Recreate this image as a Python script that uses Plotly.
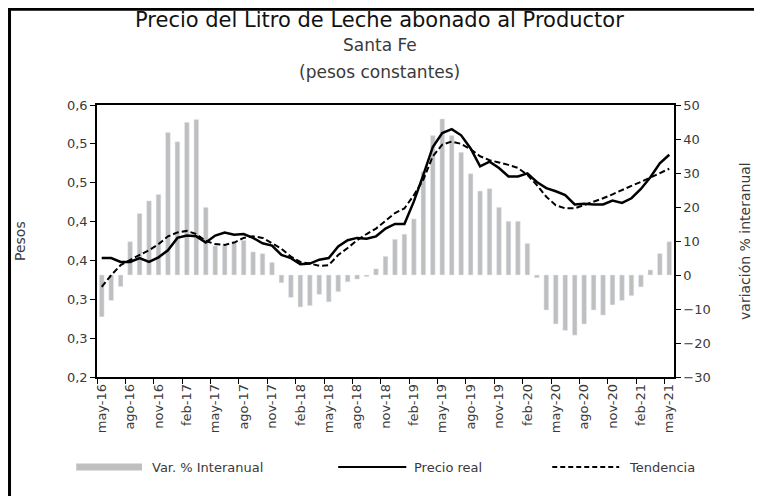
import plotly.graph_objects as go

# meses may-16 .. may-21
meses_abr = ['ene', 'feb', 'mar', 'abr', 'may', 'jun', 'jul', 'ago', 'sep', 'oct', 'nov', 'dic']
meses = []
for anio in range(16, 22):
    for m in meses_abr:
        meses.append(f"{m}-{anio}")
meses = meses[meses.index('may-16'):meses.index('may-21') + 1]

var_interanual = [-12.3, -7.5, -3.4, 9.8, 18.1, 21.8, 23.7, 41.9, 39.2, 44.9,
                  45.7, 19.9, 8.6, 8.6, 9.8, 10.2, 6.8, 6.3, 3.7, -2.3,
                  -6.6, -9.4, -9.0, -5.7, -7.9, -4.9, -2.0, -1.2, -0.5, 1.8,
                  5.5, 10.5, 12.0, 16.5, 30.4, 41.0, 45.9, 41.0, 36.1, 29.8,
                  24.7, 25.4, 19.9, 15.8, 15.8, 9.3, -0.8, -10.3, -14.4, -16.3,
                  -17.7, -14.4, -10.3, -11.8, -8.8, -7.5, -6.1, -3.5, 1.5, 6.3,
                  9.8]

precio_real = [0.353, 0.353, 0.348, 0.348, 0.353, 0.348, 0.354, 0.363, 0.379, 0.382,
               0.381, 0.373, 0.382, 0.386, 0.383, 0.384, 0.379, 0.372, 0.369, 0.357,
               0.353, 0.345, 0.346, 0.351, 0.353, 0.368, 0.376, 0.379, 0.378, 0.381,
               0.391, 0.397, 0.397, 0.426, 0.460, 0.496, 0.514, 0.519, 0.511, 0.494,
               0.471, 0.477, 0.469, 0.458, 0.458, 0.462, 0.451, 0.443, 0.439, 0.434,
               0.422, 0.423, 0.422, 0.422, 0.427, 0.424, 0.430, 0.442, 0.457, 0.475,
               0.486]

tendencia = [0.316, 0.331, 0.344, 0.351, 0.357, 0.363, 0.371, 0.381, 0.386, 0.388,
             0.384, 0.375, 0.371, 0.370, 0.373, 0.379, 0.381, 0.379, 0.372, 0.365,
             0.355, 0.348, 0.346, 0.343, 0.344, 0.357, 0.366, 0.376, 0.384, 0.391,
             0.401, 0.411, 0.417, 0.434, 0.454, 0.484, 0.499, 0.503, 0.500, 0.493,
             0.484, 0.479, 0.476, 0.473, 0.469, 0.460, 0.447, 0.432, 0.421, 0.417,
             0.417, 0.421, 0.426, 0.430, 0.435, 0.441, 0.446, 0.451, 0.457, 0.462,
             0.468]

pesos_ticks = [0.2, 0.25, 0.3, 0.35, 0.4, 0.45, 0.5, 0.55]
pesos_labels = ['0,2', '0,3', '0,3', '0,4', '0,4', '0,5', '0,5', '0,6']

FUENTE = 'DejaVu Sans'
GRIS = '#bfbfbf'
TEXTO = '#3a3a3a'

fig = go.Figure()

# barras en el eje primario (derecha) para que las lineas queden encima
fig.add_trace(go.Bar(x=meses, y=var_interanual, name='Var. % Interanual',
                     marker_color=GRIS, yaxis='y'))
fig.add_trace(go.Scatter(x=meses, y=precio_real, name='Precio real', mode='lines',
                         line=dict(color='black', width=2.5), yaxis='y2'))
fig.add_trace(go.Scatter(x=meses, y=tendencia, name='Tendencia', mode='lines',
                         line=dict(color='black', width=2, dash='6px,3px'), yaxis='y2'))

# la pagina deja 8px de margen en el body: se compensa en los margenes
fig.update_layout(
    width=762, height=496,
    margin=dict(l=89, r=96, t=97, b=127),
    paper_bgcolor='white', plot_bgcolor='white',
    font=dict(family=FUENTE, size=13, color=TEXTO),
    showlegend=False,
    bargap=0.5,
    xaxis=dict(type='category', tickson='boundaries', dtick=3, tickangle=-90,
               ticks='outside', ticklen=5, tickcolor='black', showline=True,
               linecolor='black', linewidth=1.5, mirror=True, showgrid=False,
               tickfont=dict(size=13, color=TEXTO)),
    yaxis=dict(side='right', range=[-30, 50], dtick=10, showgrid=False,
               zeroline=False, showline=True, linecolor='black', linewidth=1.5,
               ticks='outside', ticklen=5, tickcolor='black',
               tickfont=dict(size=13, color=TEXTO)),
    yaxis2=dict(side='left', overlaying='y', range=[0.2, 0.55],
                tickvals=pesos_ticks, ticktext=pesos_labels, showgrid=False,
                zeroline=False, showline=True, linecolor='black', linewidth=1.5,
                ticks='outside', ticklen=5, tickcolor='black',
                tickfont=dict(size=13, color=TEXTO)),
)

# titulos
fig.add_annotation(text='Precio del Litro de Leche abonado al Productor', xref='paper', yref='paper',
                   x=0.49, y=1.3125, yanchor='middle', showarrow=False,
                   font=dict(size=21, color='#111'))
fig.add_annotation(text='Santa Fe', xref='paper', yref='paper',
                   x=0.49, y=1.22, yanchor='middle', showarrow=False,
                   font=dict(size=17, color=TEXTO))
fig.add_annotation(text='(pesos constantes)', xref='paper', yref='paper',
                   x=0.49, y=1.12, yanchor='middle', showarrow=False,
                   font=dict(size=17, color=TEXTO))

# titulos de ejes
fig.add_annotation(text='Pesos', xref='paper', yref='paper', x=-0.1334, y=0.5,
                   xanchor='center', yanchor='middle', textangle=-90, showarrow=False,
                   font=dict(size=14, color=TEXTO))
fig.add_annotation(text='variación % interanual', xref='paper', yref='paper', x=1.123, y=0.5,
                   xanchor='center', yanchor='middle', textangle=-90, showarrow=False,
                   font=dict(size=14, color=TEXTO))

# leyenda dibujada a mano (muestras largas como en el original)
ly = -0.331
fig.add_shape(type='line', xref='paper', yref='paper', x0=-0.036, x1=0.078, y0=ly, y1=ly,
              line=dict(color=GRIS, width=7))
fig.add_annotation(text='Var. % Interanual', xref='paper', yref='paper', x=0.092, y=ly,
                   xanchor='left', yanchor='middle', showarrow=False,
                   font=dict(size=13, color=TEXTO))
fig.add_shape(type='line', xref='paper', yref='paper', x0=0.418, x1=0.536, y0=ly, y1=ly,
              line=dict(color='black', width=2))
fig.add_annotation(text='Precio real', xref='paper', yref='paper', x=0.546, y=ly,
                   xanchor='left', yanchor='middle', showarrow=False,
                   font=dict(size=13, color=TEXTO))
fig.add_shape(type='line', xref='paper', yref='paper', x0=0.789, x1=0.905, y0=ly, y1=ly,
              line=dict(color='black', width=2, dash='5px,3px'))
fig.add_annotation(text='Tendencia', xref='paper', yref='paper', x=0.918, y=ly,
                   xanchor='left', yanchor='middle', showarrow=False,
                   font=dict(size=13, color=TEXTO))

# marco exterior (izquierda y arriba visibles)
fig.add_shape(type='rect', xref='paper', yref='paper', x0=-0.1516, x1=1.3, y0=-0.6, y1=1.352,
              line=dict(color='black', width=3))

fig.write_html("out.html")
